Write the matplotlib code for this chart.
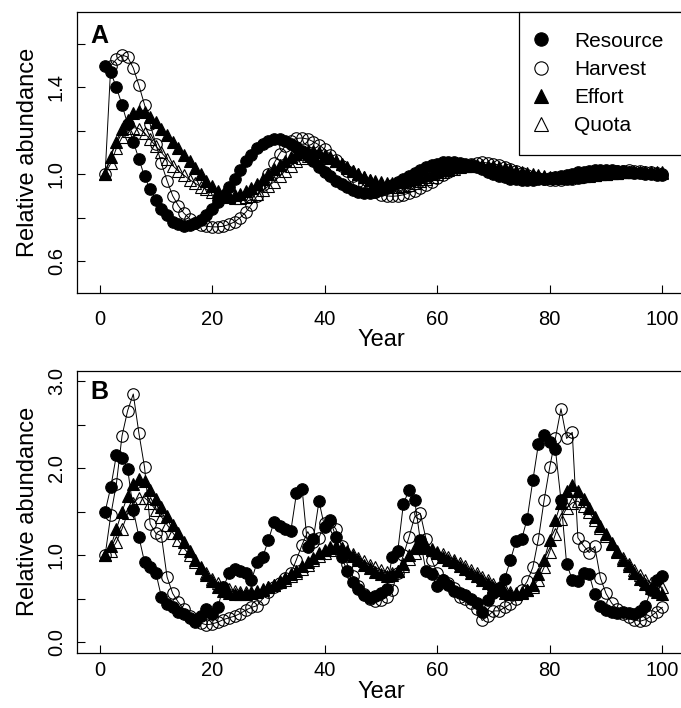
import numpy as np
import matplotlib
matplotlib.use("Agg")
import matplotlib.pyplot as plt
from matplotlib.lines import Line2D

plt.rcParams['font.family'] = ['Liberation Sans', 'DejaVu Sans']

years = np.arange(1, 101)

# ---------------- Panel A ----------------
resource_a = [1.50, 1.47, 1.40, 1.32, 1.23, 1.15, 1.07, 0.99, 0.93, 0.88,
              0.84, 0.81, 0.78, 0.77, 0.76, 0.765, 0.775, 0.79, 0.81, 0.84,
              0.87, 0.90, 0.94, 0.98, 1.02, 1.06, 1.09, 1.12, 1.14, 1.155,
              1.16, 1.16, 1.155, 1.14, 1.125, 1.105, 1.085, 1.06, 1.035, 1.01,
              0.99, 0.97, 0.955, 0.94, 0.928, 0.92, 0.915, 0.915, 0.918, 0.925,
              0.935, 0.948, 0.962, 0.977, 0.992, 1.007, 1.02, 1.032, 1.042, 1.049,
              1.054, 1.056, 1.056, 1.053, 1.048, 1.041, 1.032, 1.022, 1.012, 1.002,
              0.993, 0.986, 0.98, 0.976, 0.974, 0.973, 0.974, 0.976, 0.979, 0.983,
              0.988, 0.993, 0.998, 1.003, 1.008, 1.012, 1.015, 1.017, 1.018, 1.018,
              1.017, 1.015, 1.013, 1.01, 1.007, 1.004, 1.002, 1.0, 0.998, 0.997]
harvest_a = [1.00, 1.50, 1.53, 1.55, 1.54, 1.49, 1.41, 1.32, 1.23, 1.14,
             1.05, 0.97, 0.90, 0.855, 0.82, 0.795, 0.777, 0.766, 0.76, 0.757,
             0.757, 0.76, 0.768, 0.78, 0.80, 0.825, 0.86, 0.90, 0.95, 1.00,
             1.05, 1.095, 1.13, 1.155, 1.165, 1.167, 1.162, 1.15, 1.135, 1.115,
             1.09, 1.065, 1.04, 1.015, 0.99, 0.968, 0.948, 0.93, 0.916, 0.906,
             0.90, 0.898, 0.90, 0.905, 0.913, 0.924, 0.937, 0.951, 0.966, 0.981,
             0.996, 1.01, 1.023, 1.034, 1.043, 1.049, 1.053, 1.054, 1.052, 1.048,
             1.042, 1.034, 1.025, 1.015, 1.005, 0.996, 0.988, 0.981, 0.977, 0.974,
             0.973, 0.974, 0.976, 0.979, 0.984, 0.989, 0.994, 0.999, 1.004, 1.009,
             1.012, 1.015, 1.016, 1.017, 1.016, 1.015, 1.012, 1.009, 1.006, 1.003]
effort_a = [1.00, 1.08, 1.15, 1.21, 1.25, 1.28, 1.29, 1.285, 1.265, 1.24,
            1.21, 1.18, 1.15, 1.12, 1.09, 1.06, 1.03, 1.00, 0.97, 0.945,
            0.922, 0.907, 0.90, 0.902, 0.91, 0.922, 0.938, 0.957, 0.978, 1.00,
            1.022, 1.043, 1.062, 1.078, 1.092, 1.101, 1.106, 1.106, 1.10, 1.09,
            1.077, 1.062, 1.046, 1.03, 1.014, 0.999, 0.986, 0.975, 0.967, 0.962,
            0.96, 0.96, 0.962, 0.966, 0.972, 0.98, 0.988, 0.997, 1.006, 1.014,
            1.021, 1.027, 1.032, 1.036, 1.039, 1.041, 1.042, 1.042, 1.04, 1.037,
            1.033, 1.028, 1.022, 1.016, 1.01, 1.004, 0.999, 0.994, 0.99, 0.987,
            0.985, 0.984, 0.984, 0.985, 0.987, 0.99, 0.993, 0.996, 0.999, 1.002,
            1.005, 1.007, 1.009, 1.01, 1.011, 1.011, 1.011, 1.01, 1.009, 1.008]
quota_a = [1.00, 1.05, 1.12, 1.17, 1.20, 1.215, 1.21, 1.19, 1.16, 1.13,
           1.10, 1.07, 1.04, 1.015, 0.995, 0.975, 0.958, 0.943, 0.93, 0.918,
           0.908, 0.90, 0.893, 0.89, 0.89, 0.893, 0.90, 0.91, 0.925, 0.945,
           0.965, 0.99, 1.015, 1.04, 1.06, 1.075, 1.085, 1.09, 1.09, 1.085,
           1.075, 1.062, 1.048, 1.032, 1.016, 1.0, 0.985, 0.972, 0.96, 0.951,
           0.945, 0.942, 0.942, 0.945, 0.95, 0.958, 0.967, 0.977, 0.988, 0.999,
           1.009, 1.018, 1.026, 1.032, 1.036, 1.038, 1.039, 1.038, 1.035, 1.031,
           1.026, 1.02, 1.014, 1.008, 1.002, 0.997, 0.992, 0.988, 0.985, 0.983,
           0.982, 0.982, 0.983, 0.985, 0.988, 0.991, 0.994, 0.997, 1.0, 1.003,
           1.005, 1.007, 1.008, 1.009, 1.009, 1.009, 1.009, 1.008, 1.007, 1.006]

# ---------------- Panel B ----------------
resource_b = [1.50, 1.78, 2.15, 2.12, 1.99, 1.52, 1.21, 0.92, 0.86, 0.80,
              0.52, 0.44, 0.40, 0.35, 0.33, 0.28, 0.23, 0.30, 0.38, 0.33,
              0.40, 0.63, 0.79, 0.84, 0.82, 0.79, 0.71, 0.92, 0.98, 1.17,
              1.38, 1.34, 1.30, 1.28, 1.71, 1.76, 1.09, 1.19, 1.62, 1.32,
              1.40, 1.21, 0.98, 0.82, 0.69, 0.61, 0.54, 0.51, 0.53, 0.57,
              0.61, 0.98, 1.05, 1.59, 1.75, 1.63, 1.17, 0.82, 0.78, 0.65,
              0.71, 0.66, 0.59, 0.57, 0.54, 0.50, 0.45, 0.35, 0.48, 0.56,
              0.62, 0.73, 0.94, 1.16, 1.18, 1.42, 1.86, 2.28, 2.38, 2.30,
              2.22, 1.63, 0.90, 0.72, 0.70, 0.80, 0.78, 0.55, 0.42, 0.37,
              0.35, 0.34, 0.35, 0.34, 0.33, 0.36, 0.42, 0.60, 0.72, 0.76]
harvest_b = [1.00, 1.46, 1.82, 2.37, 2.66, 2.85, 2.40, 2.01, 1.36, 1.25,
             1.22, 0.75, 0.56, 0.46, 0.38, 0.30, 0.25, 0.22, 0.20, 0.21,
             0.23, 0.26, 0.28, 0.30, 0.33, 0.37, 0.40, 0.42, 0.50, 0.58,
             0.63, 0.68, 0.74, 0.79, 0.95, 1.12, 1.27, 1.15, 1.20, 1.37,
             1.38, 1.30, 1.10, 0.90, 0.76, 0.65, 0.55, 0.50, 0.47, 0.48,
             0.52, 0.60, 0.80, 1.00, 1.21, 1.44, 1.48, 1.19, 0.95, 0.80,
             0.72, 0.68, 0.62, 0.52, 0.50, 0.45, 0.38, 0.25, 0.30, 0.36,
             0.36, 0.40, 0.44, 0.50, 0.60, 0.70, 0.86, 1.19, 1.63, 2.01,
             2.34, 2.68, 2.34, 2.41, 1.20, 1.11, 1.03, 1.10, 0.74, 0.56,
             0.45, 0.38, 0.33, 0.29, 0.26, 0.24, 0.26, 0.30, 0.35, 0.40]
effort_b = [1.00, 1.10, 1.30, 1.50, 1.68, 1.82, 1.88, 1.85, 1.75, 1.65,
            1.55, 1.45, 1.35, 1.25, 1.15, 1.05, 0.95, 0.86, 0.77, 0.70,
            0.64, 0.59, 0.56, 0.55, 0.55, 0.55, 0.56, 0.58, 0.60, 0.63,
            0.66, 0.70, 0.74, 0.78, 0.82, 0.87, 0.92, 0.97, 1.02, 1.06,
            1.09, 1.10, 1.08, 1.04, 0.99, 0.94, 0.89, 0.85, 0.81, 0.78,
            0.76, 0.77, 0.82, 0.90, 1.00, 1.08, 1.12, 1.10, 1.06, 1.02,
            0.98, 0.95, 0.92, 0.88, 0.84, 0.80, 0.76, 0.72, 0.68, 0.64,
            0.60, 0.57, 0.55, 0.55, 0.57, 0.60, 0.66, 0.78, 0.95, 1.17,
            1.40, 1.60, 1.74, 1.80, 1.74, 1.64, 1.54, 1.44, 1.34, 1.24,
            1.14, 1.04, 0.95, 0.87, 0.80, 0.73, 0.67, 0.62, 0.58, 0.55]
quota_b = [1.00, 1.05, 1.15, 1.30, 1.48, 1.60, 1.66, 1.66, 1.60, 1.52,
           1.44, 1.35, 1.26, 1.17, 1.08, 1.00, 0.92, 0.85, 0.79, 0.73,
           0.68, 0.64, 0.61, 0.59, 0.58, 0.58, 0.58, 0.59, 0.61, 0.63,
           0.66, 0.69, 0.72, 0.76, 0.80, 0.84, 0.89, 0.94, 0.99, 1.03,
           1.06, 1.08, 1.08, 1.05, 1.01, 0.97, 0.93, 0.89, 0.86, 0.83,
           0.81, 0.80, 0.82, 0.88, 0.96, 1.03, 1.08, 1.09, 1.07, 1.04,
           1.01, 0.98, 0.95, 0.91, 0.87, 0.83, 0.79, 0.75, 0.71, 0.67,
           0.63, 0.60, 0.58, 0.57, 0.58, 0.60, 0.64, 0.72, 0.86, 1.04,
           1.24, 1.42, 1.54, 1.60, 1.62, 1.57, 1.49, 1.40, 1.31, 1.22,
           1.13, 1.05, 0.97, 0.90, 0.83, 0.77, 0.72, 0.68, 0.65, 0.63]

series_names = ["Resource", "Harvest", "Effort", "Quota"]
x_ticks = [0, 20, 40, 60, 80, 100]
y_ticks_a = [0.6, 0.8, 1.0, 1.2, 1.4, 1.6]
y_labels_a = ["0.6", "", "1.0", "", "1.4", ""]
y_ticks_b = [0.0, 0.5, 1.0, 1.5, 2.0, 2.5, 3.0]
y_labels_b = ["0.0", "", "1.0", "", "2.0", "", "3.0"]

W, H = 681, 708
fig = plt.figure(figsize=(W / 100, H / 100), dpi=100)

def px_axes(left, top, right, bottom):
    return [left / W, 1 - bottom / H, (right - left) / W, (bottom - top) / H]

axA = fig.add_axes(px_axes(77, 12, 684.8, 293))
axB = fig.add_axes(px_axes(77, 370.5, 684.8, 652.7))

styles = [dict(marker='o', mfc='black', ms=8.3),
          dict(marker='o', mfc='none', ms=8.3),
          dict(marker='^', mfc='black', ms=9.3),
          dict(marker='^', mfc='none', ms=9.3)]

def draw(ax, data, yticks, ylabels, ylim, label_pad, xlabel_y):
    for vals, st in zip(data, styles):
        ax.plot(years, vals, color='black', lw=0.7, mec='black', mew=0.8, **st)
    ax.set_xlim(-4, 104)
    ax.set_ylim(*ylim)
    ax.set_xticks(x_ticks)
    ax.set_xticklabels([str(t) for t in x_ticks])
    ax.set_yticks(yticks)
    ax.set_yticklabels(ylabels)
    ax.tick_params(direction='in', length=6, width=0.8, labelsize=14.5, color='black')
    ax.tick_params(axis='x', pad=label_pad)
    ax.tick_params(axis='y', pad=8, labelrotation=90)
    for lab in ax.get_yticklabels():
        lab.set_va('center')
    for sp in ax.spines.values():
        sp.set_linewidth(0.9)
    ax.set_xlabel("Year", fontsize=17)
    ax.xaxis.set_label_coords(0.5, xlabel_y)
    ax.xaxis.label.set_va('center')
    ax.set_ylabel("Relative abundance", fontsize=17)
    ax.yaxis.set_label_coords(-0.080, 0.5)
    ax.yaxis.label.set_va('center')

draw(axA, [resource_a, harvest_a, effort_a, quota_a], y_ticks_a, y_labels_a,
     (0.452, 1.748), 12.5, -(340 - 293) / 281)
draw(axB, [resource_b, harvest_b, effort_b, quota_b], y_ticks_b, y_labels_b,
     (-0.12, 3.12), 6, -(692 - 652.7) / 282.2)

handles = [Line2D([], [], ls='none', color='black', mec='black', mew=0.8,
                  marker=st['marker'], mfc=st['mfc'], ms=9.6) for st in styles]
x0 = (519 - 77) / 607.8
leg = axA.legend(handles, series_names, loc='upper left',
                 bbox_to_anchor=(x0, 0.0, 1.0 - x0, 1.0), mode='expand',
                 borderaxespad=0, fontsize=15, frameon=True, fancybox=False,
                 edgecolor='black', framealpha=1, borderpad=0.95,
                 handlelength=0.25, handletextpad=1.45, labelspacing=0.44)
leg.get_frame().set_linewidth(0.9)

fig.text(90 / W, 1 - 43 / H, "A", fontsize=18, fontweight='bold', ha='left', va='baseline')
fig.text(90 / W, 1 - 399 / H, "B", fontsize=18, fontweight='bold', ha='left', va='baseline')

fig.savefig("out.png", dpi=100)
